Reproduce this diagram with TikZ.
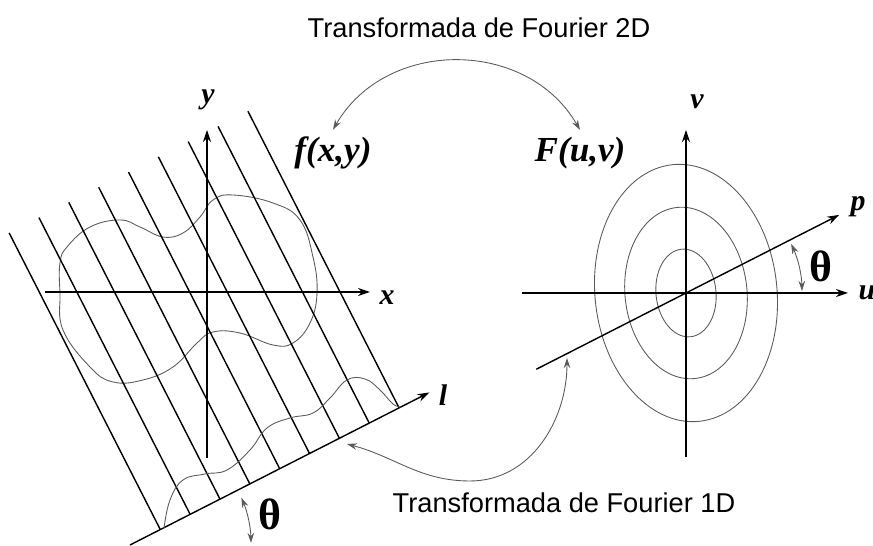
\documentclass[tikz,border=0pt]{standalone}
\usepackage{fontspec}
\setmainfont{Liberation Serif}
\newfontfamily\capfont{Liberation Sans}
\usepackage{xcolor}
\usepackage{tikz}
\usetikzlibrary{arrows.meta,calc}
\definecolor{curvegray}{RGB}{90,90,90}
\tikzset{
  axis/.style={-{Stealth[length=2.4mm,width=1.6mm]}, line width=0.8pt, draw=black},
  ray/.style={line width=0.8pt, draw=black},
  level/.style={draw=curvegray, line width=0.5pt},
  conn/.style={{Stealth[length=2mm,width=1.3mm]}-{Stealth[length=2mm,width=1.3mm]}, draw=curvegray, line width=0.5pt},
  lbl/.style={font=\fontsize{17}{20}\selectfont\itshape\bfseries, inner sep=1pt},
  fn/.style={font=\fontsize{20}{24}\selectfont\itshape\bfseries, inner sep=1pt},
  ang/.style={font=\fontsize{25}{30}\selectfont\bfseries, inner sep=1pt},
  caption/.style={font=\capfont\fontsize{15.5}{18}\selectfont, inner sep=0pt},
}

\begin{document}
\begin{tikzpicture}[x=0.02cm,y=0.02cm]
  \useasboundingbox (0,0) rectangle (873,546);
  % captions
  \node[caption] (t2d) at (479,518) {Transformada de Fourier 2D};
  \node[caption] (t1d) at (564,43) {Transformada de Fourier 1D};
  % spatial plane
  \coordinate (o1) at (207,254);
  \coordinate (l0) at (130,1);
  \draw[level] plot[smooth cycle, tension=0.7] coordinates {(60,283) (60,253) (63,216) (90,179) (113,164) (143,166) (173,179) (197,203) (213,214) (240,213) (273,201) (293,203) (310,223) (317,253) (313,289) (300,326) (273,343) (233,351) (213,346) (200,329) (183,313) (163,309) (140,319) (120,326) (90,319) (67,299)};
  \foreach \k in {0,...,8}
    \draw[ray] ($(l0)+(27:{34+33.5*\k})$) -- ++(117:333);
  \draw[axis] ($(o1)+(-162,0)$) -- ($(o1)+(163,0)$);
  \draw[axis] ($(o1)+(0,-166)$) -- ($(o1)+(0,162)$);
  \draw[axis] (l0) -- ++(27:336);
  \draw[level] plot[smooth, tension=0.7] coordinates {(164,18) (170,46) (183,66) (205,72) (227,76) (250,96) (267,118) (290,128) (313,133) (330,148) (347,166) (365,167) (380,156) (393,142) (401,139)};
  \draw[conn] ($(l0)+(1:121)$) arc[start angle=1, end angle=23, radius=121];
  \node[lbl] (xlab) at (387,248) {x};
  \node[lbl] (ylab) at (208,446) {y};
  \node[lbl] (llab) at (443,151) {l};
  \node[ang] (thl) at (270,32) {θ};
  \node[fn] (fxy) at (333,393) {f(x,y)};
  % frequency plane
  \coordinate (o2) at (686,253);
  \foreach \a/\b in {30/44,61/86,91/129}
    \draw[level, rotate around={6:(o2)}] (o2) ellipse[x radius=\a, y radius=\b];
  \draw[axis] ($(o2)+(-164,0)$) -- ($(o2)+(162,0)$);
  \draw[axis] ($(o2)+(0,-164)$) -- ($(o2)+(0,163)$);
  \draw[axis] ($(o2)+(207:168)$) -- ($(o2)+(27:172)$);
  \draw[conn] ($(o2)+(1:116)$) arc[start angle=1, end angle=25, radius=116];
  \node[lbl] (ulab) at (867,253) {u};
  \node[lbl] (vlab) at (697,444) {v};
  \node[lbl] (plab) at (858,339) {p};
  \node[ang] (thr) at (821,280) {θ};
  \node[fn] (Fuv) at (580,393) {F(u,v)};
  % transforms
  \coordinate (a1) at (347,102);
  \coordinate (m1) at (470,65);
  \coordinate (b1) at (567,188);
  \draw[conn] ([yshift=0.1cm]fxy.north) to[out=60, in=120, looseness=1.1] ([yshift=0.1cm]Fuv.north);
  \draw[conn] (a1) to[out=-15, in=180] (m1) to[out=0, in=-90] (b1);
\end{tikzpicture}
\end{document}
